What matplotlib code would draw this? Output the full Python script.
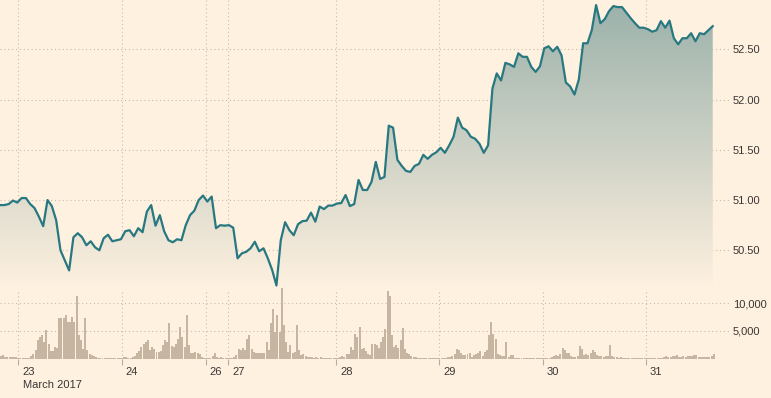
import numpy as np
import matplotlib
matplotlib.use('Agg')
import matplotlib.pyplot as plt
from matplotlib.colors import LinearSegmentedColormap
from matplotlib.patches import Polygon
from matplotlib.transforms import ScaledTranslation
from matplotlib.ticker import FuncFormatter

# ---------------- data ----------------
# hourly price (hours from start of chart)
price = [
    50.95, 50.95, 50.96, 50.995, 50.975, 51.02, 51.02, 50.96, 50.92, 50.835,
    50.74, 51.00, 50.94, 50.80, 50.50, 50.40, 50.30, 50.63, 50.67, 50.63,
    50.55, 50.59, 50.53, 50.50, 50.62, 50.655, 50.59, 50.60, 50.61, 50.69,
    50.70, 50.64, 50.72, 50.68, 50.885, 50.95, 50.745, 50.85, 50.69, 50.60,
    50.58, 50.61, 50.60, 50.75, 50.85, 50.895, 51.00, 51.045, 50.985, 51.035,
    50.72, 50.75, 50.745, 50.75, 50.725, 50.42, 50.47, 50.485, 50.52, 50.585,
    50.49, 50.52, 50.42, 50.305, 50.15, 50.60, 50.78, 50.70, 50.65, 50.76,
    50.79, 50.795, 50.875, 50.785, 50.935, 50.91, 50.945, 50.945, 50.965, 50.97,
    51.05, 50.94, 50.96, 51.20, 51.10, 51.10, 51.18, 51.38, 51.21, 51.23,
    51.74, 51.72, 51.40, 51.34, 51.29, 51.28, 51.34, 51.36, 51.45, 51.41,
    51.45, 51.475, 51.52, 51.47, 51.545, 51.63, 51.82, 51.72, 51.695, 51.63,
    51.61, 51.56, 51.47, 51.545, 52.11, 52.26, 52.19, 52.365, 52.35, 52.325,
    52.46, 52.425, 52.425, 52.325, 52.275, 52.33, 52.51, 52.53, 52.48, 52.525,
    52.44, 52.17, 52.13, 52.05, 52.20, 52.56, 52.56, 52.69, 52.94, 52.76,
    52.80, 52.88, 52.93, 52.92, 52.92, 52.865, 52.81, 52.76, 52.715, 52.715,
    52.70, 52.675, 52.69, 52.78, 52.715, 52.785, 52.61, 52.55, 52.61, 52.61,
    52.66, 52.58, 52.66, 52.65, 52.69, 52.73,
]

# half-hourly volume, thousands of contracts
volume_k = [
    0.48, 0.72, 0.3, 0.3, 0.3, 0.3, 0.25, 0.25, 0.12, 0.12,
    0.12, 0.12, 0.12, 0.12, 0.48, 0.9, 1.5, 3.3, 3.9, 4.2,
    3.1, 5.1, 2.6, 1.4, 1.4, 2.2, 1.9, 7.3, 7.3, 7.4,
    7.8, 6.6, 6.6, 7.5, 6.6, 11.4, 4.2, 3.3, 1.8, 7.3,
    1.5, 0.9, 0.6, 0.48, 0.25, 0.06, 0.06, 0.06, 0.06, 0.06,
    0.06, 0.06, 0.06, 0.06, 0.06, 0.06, 0.12, 0.25, 0.25, 0.12,
    0.12, 0.25, 0.5, 1.1, 1.3, 2.1, 2.7, 3.1, 3.3, 1.5,
    2.1, 1.8, 1.2, 1.2, 1.4, 2.4, 3.3, 3.1, 6.5, 2.3,
    2.1, 2.7, 3.6, 5.7, 3.9, 2.1, 7.9, 2.4, 1.1, 1.1,
    1.2, 1.0, 0.9, 0.3, 0.06, 0.06, 0.06, 0.12, 0.5, 1.1,
    0.3, 0.1, 0.3, 0.1, 0.06, 0.06, 0.06, 0.06, 0.3, 0.6,
    1.8, 1.5, 1.9, 1.5, 3.6, 4.2, 1.8, 1.2, 1.0, 1.0,
    1.0, 1.0, 1.0, 3.0, 1.5, 6.5, 9.0, 4.9, 7.9, 4.9,
    12.8, 6.1, 3.0, 1.2, 2.4, 1.1, 1.2, 6.0, 1.5, 0.6,
    0.9, 0.5, 0.3, 0.25, 0.25, 0.12, 0.25, 0.12, 0.25, 0.1,
    0.1, 0.1, 0.1, 0.1, 0.1, 0.1, 0.1, 0.3, 0.5, 0.3,
    0.9, 0.9, 2.1, 1.5, 4.5, 4.0, 5.7, 1.8, 1.9, 1.3,
    0.9, 0.7, 2.7, 2.7, 2.4, 1.9, 3.0, 3.9, 5.4, 12.2,
    11.3, 4.2, 2.1, 2.4, 1.9, 3.3, 5.5, 1.8, 1.1, 0.9,
    0.5, 0.3, 0.25, 0.1, 0.1, 0.1, 0.1, 0.1, 0.1, 0.1,
    0.1, 0.06, 0.06, 0.06, 0.06, 0.06, 0.06, 0.25, 0.3, 0.5,
    0.9, 1.8, 1.5, 1.1, 0.7, 0.6, 0.9, 1.1, 0.3, 0.6,
    0.9, 1.1, 1.3, 0.5, 1.2, 1.5, 4.2, 6.7, 4.5, 3.5,
    0.9, 0.7, 0.5, 0.5, 3.1, 0.3, 0.6, 0.6, 0.1, 0.06,
    0.06, 0.06, 0.06, 0.06, 0.06, 0.06, 0.06, 0.06, 0.06, 0.06,
    0.06, 0.06, 0.06, 0.06, 0.06, 0.3, 0.5, 0.7, 0.5, 0.9,
    1.9, 1.5, 1.1, 1.0, 0.5, 0.3, 0.3, 0.5, 2.3, 1.8,
    0.7, 0.9, 0.7, 1.0, 1.5, 1.2, 0.7, 0.5, 0.5, 0.3,
    0.5, 0.5, 2.4, 0.5, 0.3, 0.25, 0.06, 0.25, 0.06, 0.06,
    0.18, 0.06, 0.06, 0.06, 0.06, 0.06, 0.06, 0.06, 0.06, 0.06,
    0.06, 0.06, 0.06, 0.06, 0.06, 0.06, 0.06, 0.25, 0.5, 0.36,
    0.25, 0.5, 0.5, 0.7, 0.25, 0.36, 0.5, 0.25, 0.5, 0.5,
    0.5, 0.7, 0.6, 0.36, 0.36, 0.25, 0.3, 0.25, 0.25, 0.5,
    0.9,
]

day_pos = [4.24, 28.2, 47.6, 52.85, 77.9, 101.7, 125.6, 149.5]   # hours
day_labels = ['23', '24', '26', '27', '28', '29', '30', '31']
month_label = 'March 2017'
price_ticks = [50.5, 51.0, 51.5, 52.0, 52.5]
vol_ticks_k = [5, 10]

# ---------------- style ----------------
BG = '#fff1e0'
LINE = '#277880'
BAR = '#c6b5a1'
GRID = '#c9bcad'
TXT = '#3a3634'
FILL_TOP = '#9ab1aa'
plt.rcParams['font.family'] = ['Liberation Sans', 'DejaVu Sans']
plt.rcParams['font.size'] = 8

W, H = 771, 398
fig = plt.figure(figsize=(W / 100, H / 100), dpi=100, facecolor=BG)


def rect(x0, y0, x1, y1):
    return [x0 / W, 1 - y1 / H, (x1 - x0) / W, (y1 - y0) / H]


PLOT_R = 730
BASE = 358.7
XMAX = 169.0

ax_bg = fig.add_axes(rect(0, 0, PLOT_R, BASE))
ax_p = fig.add_axes(rect(0, 0, PLOT_R, 290))
ax_v = fig.add_axes(rect(0, 282, PLOT_R, BASE))

for a in (ax_bg, ax_p, ax_v):
    a.set_facecolor('none')
    for s in a.spines.values():
        s.set_visible(False)
    a.set_xlim(0, XMAX)

dots = (0, (1, 2.5))

# background vertical gridlines
ax_bg.set_ylim(0, 1)
for d in day_pos:
    ax_bg.axvline(d, color=GRID, lw=0.8, ls=dots)
ax_bg.set_xticks([])
ax_bg.set_yticks([])

# ---------------- price ----------------
hours = np.arange(len(price)) * 1.0
pmin, pmax = 50.105, 52.9905
ax_p.set_ylim(pmin, pmax)

verts = [(hours[0], pmin)] + list(zip(hours, price)) + [(hours[-1], pmin)]
poly = Polygon(verts, closed=True, facecolor='none', edgecolor='none')
ax_p.add_patch(poly)
cmap = LinearSegmentedColormap.from_list('ft', [FILL_TOP, BG])
grad = np.linspace(0, 1, 256).reshape(-1, 1)
im = ax_p.imshow(grad, cmap=cmap, aspect='auto', origin='upper',
                 extent=[0, XMAX, pmin, pmax], zorder=1)
im.set_clip_path(poly)
ax_p.plot(hours, price, color=LINE, lw=1.6, zorder=3, solid_joinstyle='round')
ax_p.set_xlim(0, XMAX)
ax_p.set_ylim(pmin, pmax)

ax_p.set_yticks(price_ticks)
ax_p.yaxis.set_major_formatter(FuncFormatter(lambda v, _: f'{v:.2f}'))
ax_p.yaxis.tick_right()
ax_p.tick_params(axis='y', length=0, pad=2.2, labelcolor=TXT, labelsize=8)
ax_p.set_xticks([])
ax_p.grid(axis='y', color=GRID, lw=0.8, ls=dots)
ax_p.set_axisbelow(True)

# ---------------- volume ----------------
vhours = np.arange(len(volume_k)) * 0.5
ax_v.set_ylim(0, 13.84)
ax_v.bar(vhours, volume_k, width=0.46, align='edge', color=BAR, linewidth=0, zorder=2)
ax_v.set_yticks(vol_ticks_k)
ax_v.yaxis.set_major_formatter(FuncFormatter(lambda v, _: f'{v * 1000:,.0f}'))
ax_v.yaxis.tick_right()
ax_v.tick_params(axis='y', length=0, pad=2.2, labelcolor=TXT, labelsize=8)
ax_v.grid(axis='y', color=GRID, lw=0.8, ls=dots)
ax_v.set_axisbelow(True)

ax_v.set_xticks(day_pos)
ax_v.set_xticklabels(day_labels)
ax_v.tick_params(axis='x', direction='out', length=4.5, width=0.8, color='#b5aca2',
                 pad=1.5, labelcolor=TXT, labelsize=8)
offset = ScaledTranslation(4 / 100, 0, fig.dpi_scale_trans)
for lbl in ax_v.get_xticklabels():
    lbl.set_horizontalalignment('left')
    lbl.set_transform(lbl.get_transform() + offset)

fig.text(22.7 / W, 1 - 384.5 / H, month_label, ha='left', va='center',
         color=TXT, fontsize=8)

fig.savefig('out.png', dpi=100, facecolor=BG)
